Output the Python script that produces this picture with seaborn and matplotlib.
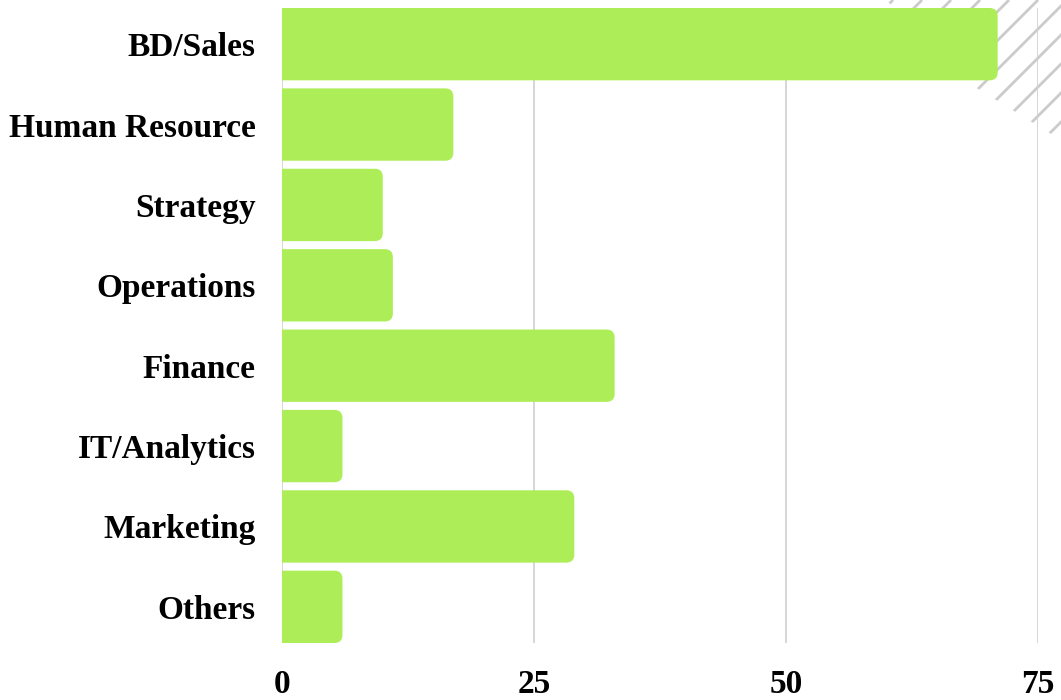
#!/usr/bin/env python3

import pandas as pd
import matplotlib.pyplot as plt
import seaborn as sns
from matplotlib.patches import FancyBboxPatch, Polygon
from matplotlib.lines import Line2D

# Chart data
departments = ["BD/Sales", "Human Resource", "Strategy", "Operations",
               "Finance", "IT/Analytics", "Marketing", "Others"]
counts = [71, 17, 10, 11, 33, 6, 29, 6]
x_ticks = [0, 25, 50, 75]

BAR_COLOR = "#adee58"
GRID_COLOR = "#d0d0d0"


def add_hatch_corner(fig):
    """Draw the grey diagonal stripes in the top right corner."""
    deco = fig.add_axes([0, 0, 1, 1], zorder=0)
    deco.set_xlim(0, 1061)
    deco.set_ylim(700, 0)
    deco.axis("off")
    clip = Polygon([(886, 0), (975, 87), (1061, 140), (1061, 0)],
                   closed=True, transform=deco.transData,
                   facecolor="none", edgecolor="none")
    deco.add_patch(clip)
    for c in range(864, 1300, 29):
        line = Line2D([c - 200, c], [200, 0], color="#cbcbcb",
                      linewidth=2.0, solid_capstyle="butt")
        deco.add_line(line)
        line.set_clip_path(clip)


def round_bars(ax):
    """Replace the bars by boxes with rounded right corners."""
    for bar in list(ax.patches):
        x, y = bar.get_x(), bar.get_y()
        w, h = bar.get_width(), bar.get_height()
        bar.remove()
        box = FancyBboxPatch((x - 3, y), w + 3, h,
                             boxstyle="round,pad=0,rounding_size=0.8",
                             mutation_aspect=0.125,
                             facecolor=BAR_COLOR, edgecolor="none",
                             zorder=2, clip_on=True)
        ax.add_patch(box)


def main():
    df = pd.DataFrame({"Department": departments, "Count": counts})

    sns.set_style("white")
    plt.rcParams["font.family"] = ["Liberation Serif", "DejaVu Serif"]
    plt.rcParams["text.color"] = "black"
    plt.rcParams["xtick.color"] = "black"
    plt.rcParams["ytick.color"] = "black"

    fig = plt.figure(figsize=(10.61, 7.0), dpi=100)
    add_hatch_corner(fig)

    ax = fig.add_axes([282 / 1061, 57 / 700,
                       (1038 - 282) / 1061, (692 - 57) / 700],
                      zorder=1)
    ax.set_facecolor("none")

    sns.barplot(data=df, x="Count", y="Department", orient="h",
                color=BAR_COLOR, width=0.9, saturation=1, ax=ax)
    round_bars(ax)

    ax.set_xlim(0, 75)
    ax.set_ylim(7.45, -0.45)
    ax.set_xticks(x_ticks)
    ax.set_xticklabels([str(t) for t in x_ticks])
    ax.xaxis.grid(True, color=GRID_COLOR, linewidth=1.2, zorder=0)
    ax.set_axisbelow(True)
    ax.set(xlabel="", ylabel="")
    sns.despine(ax=ax, left=True, bottom=True)

    ax.tick_params(axis="x", length=0, pad=19, labelsize=24,
                   labelcolor="black")
    ax.tick_params(axis="y", length=0, pad=19, labelsize=24,
                   labelcolor="black")
    for label in ax.get_xticklabels() + ax.get_yticklabels():
        label.set_fontweight("bold")

    fig.savefig("out.png", dpi=100)


if __name__ == "__main__":
    main()
